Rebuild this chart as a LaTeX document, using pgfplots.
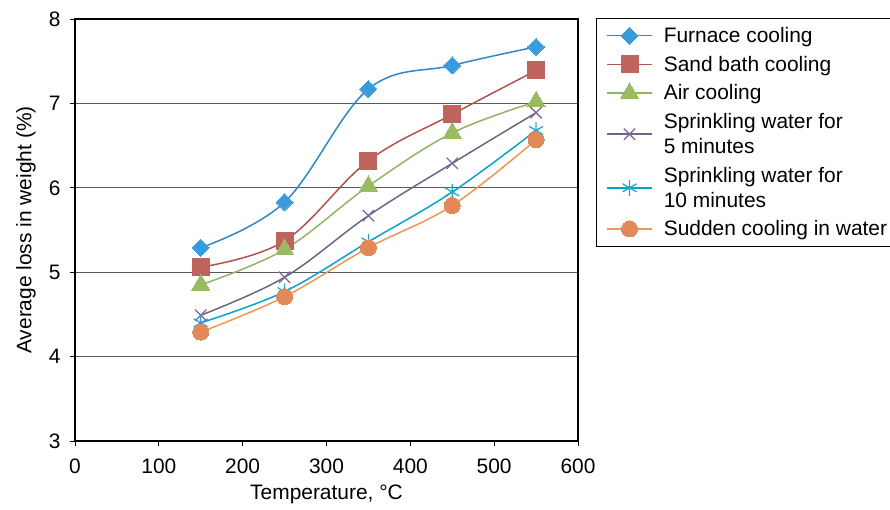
\documentclass[border=0pt]{standalone}
\usepackage{fontspec}
\setmainfont{Liberation Sans}
\usepackage{pgfplots}
\pgfplotsset{compat=1.18}
\definecolor{furL}{HTML}{2F88C4}
\definecolor{furM}{HTML}{3A9BDC}
\definecolor{sanL}{HTML}{AE544F}
\definecolor{sanM}{HTML}{BF635D}
\definecolor{airL}{HTML}{93B266}
\definecolor{airM}{HTML}{9BBB62}
\definecolor{sp5L}{HTML}{6B6685}
\definecolor{sp5M}{HTML}{8064A2}
\definecolor{spTL}{HTML}{0BA2C8}
\definecolor{spTM}{HTML}{1BA9D3}
\definecolor{sudL}{HTML}{EE9653}
\definecolor{sudM}{HTML}{E2895A}
\definecolor{gridc}{HTML}{5A5A5A}
\newcommand{\cf}{\fontsize{21}{25}\selectfont}
\begin{document}
\begin{tikzpicture}
\begin{axis}[
  scale only axis,
  width=503bp, height=422bp,
  xmin=0, xmax=600, ymin=3, ymax=8,
  xtick={0,100,...,600}, ytick={3,4,...,8},
  xtick pos=bottom, ytick pos=left,
  tick align=outside,
  major tick length=5bp,
  tick style={black, line width=0.9pt},
  axis line style={black, line width=1.1pt},
  ymajorgrids,
  grid style={gridc, line width=0.9pt},
  /pgf/number format/assume math mode=true,
  tick label style={font=\cf},
  xticklabel style={yshift=-9bp},
  yticklabel style={xshift=-6bp},
  label style={font=\cf},
  xlabel={Temperature, °C},
  ylabel={Average loss in weight (\%)},
  xlabel style={at={(axis description cs:0.5,-0.127)}, anchor=center},
  ylabel style={at={(axis description cs:-0.0974,0.5)}, anchor=center},
  every axis plot/.append style={line width=1.5pt, smooth, tension=0.6},
  legend style={at={(1.036,1.002)}, anchor=north west, draw=black,
    font=\cf, cells={anchor=west, align=left, inner xsep=1bp}, row sep=8bp, inner xsep=1bp, inner ysep=7bp},
  legend image code/.code={\path (-9bp,0bp) (54bp,0bp); \draw[mark repeat=2,mark phase=2,#1] plot coordinates {(0bp,0bp) (22.5bp,0bp) (45bp,0bp)};},
]
\addplot[furL, mark=square*, mark size=6bp, mark options={solid, fill=furM, draw=furM, line width=0pt, rotate=45}]
  coordinates {(150,5.29) (250,5.83) (350,7.17) (450,7.45) (550,7.67)};
\addlegendentry{Furnace cooling}
\addplot[sanL, mark=square*, mark size=8.5bp, mark options={solid, fill=sanM, draw=sanM, line width=0pt}]
  coordinates {(150,5.06) (250,5.37) (350,6.32) (450,6.87) (550,7.39)};
\addlegendentry{Sand bath cooling}
\addplot[airL, mark=triangle*, mark size=10.5bp, mark options={solid, fill=airM, draw=airM, line width=0pt}]
  coordinates {(150,4.85) (250,5.27) (350,6.02) (450,6.65) (550,7.02)};
\addlegendentry{Air cooling}
\addplot[sp5L, mark=x, mark size=8bp, mark options={solid, draw=sp5M, line width=1.3pt}]
  coordinates {(150,4.49) (250,4.94) (350,5.67) (450,6.29) (550,6.89)};
\addlegendentry{Sprinkling water for\\5 minutes}
\addplot[spTL, mark=asterisk, mark size=8bp, mark options={solid, draw=spTM, line width=1.3pt}]
  coordinates {(150,4.40) (250,4.77) (350,5.36) (450,5.95) (550,6.68)};
\addlegendentry{Sprinkling water for\\10 minutes}
\addplot[sudL, mark=*, mark size=8bp, mark options={solid, fill=sudM, draw=sudM, line width=0pt}]
  coordinates {(150,4.29) (250,4.71) (350,5.29) (450,5.79) (550,6.57)};
\addlegendentry{Sudden cooling in water}
\end{axis}
\pgfresetboundingbox
\path[use as bounding box] (-75bp,-69bp) rectangle (815bp,441bp);
\end{tikzpicture}
\end{document}
